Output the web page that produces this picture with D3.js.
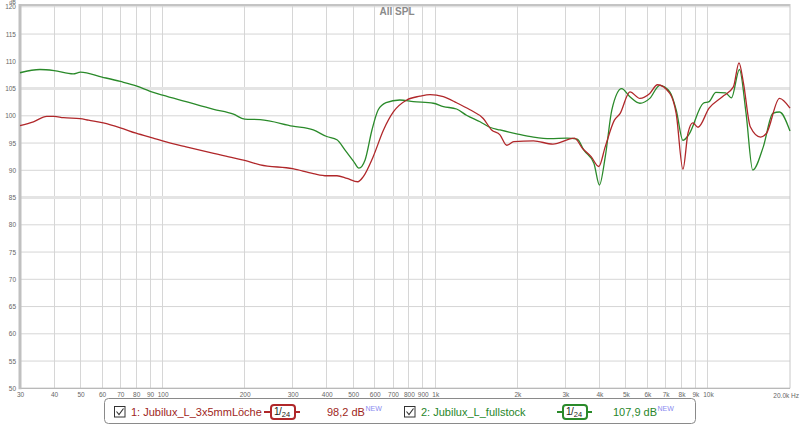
<!DOCTYPE html>
<html><head><meta charset="utf-8">
<script src="https://cdn.jsdelivr.net/npm/d3@7"></script>
<style>
body{margin:0;background:#fff;}
svg{display:block;font-family:"Liberation Sans",Arial,sans-serif;}
</style></head>
<body><svg id="chart" width="800" height="425"></svg>
<script>
// ---- data ----
const title = "All SPL";
const redName = "1: Jubilux_L_3x5mmLöche";
const greenName = "2: Jubilux_L_fullstock";
const redLevel = "98,2 dB";
const greenLevel = "107,9 dB";
const redFreq = [30,33.6,37.6,40,43.3,49.8,53.5,60.6,70,80,92.4,100,122,154,182,200,228,300,357,400,436,475,520,544,592,646,703,786,879,957,1071,1197,1341,1500,1610,1727,1830,1940,2292,2700,3240,3470,3730,3980,4200,4540,4760,5175,5630,6120,6530,7250,7650,8100,8450,8800,9200,10100,11300,12400,13000,13500,14300,15600,16400,18300,20000];
const redDb = [98.2,98.9,99.9,99.9,99.65,99.5,99.2,98.7,97.8,96.8,95.9,95.4,94.3,93.1,92.3,91.8,91.0,90.3,89.4,89.0,89.0,88.5,87.9,88.8,92.5,97.4,100.75,102.9,103.6,103.9,103.5,102.4,101.1,99.5,97.4,96.5,94.6,95.25,95.4,94.8,95.9,94.0,92.5,90.7,94.3,99.2,100.4,104.4,103.2,104.1,105.7,104.1,100.4,90.2,96.8,98.7,97.9,101.4,103.5,105.3,109.7,106.0,98.0,96.1,96.8,103.2,101.4];
const greenFreq = [30,35.5,40,47,50,60,70,80,90,100,122,154,182,200,228,300,357,400,436,467,501,525,553,586,618,660,741,831,984,1071,1197,1302,1460,1585,1727,1989,2292,2640,3040,3315,3508,3818,4000,4203,4443,4827,5175,5630,6120,6660,7250,7650,8100,8500,9618,10100,10700,11600,12200,13050,13800,14600,15960,17300,18300,20000];
const greenDb = [107.9,108.5,108.3,107.7,108.0,107.1,106.3,105.5,104.5,103.8,102.6,101.2,100.3,99.4,99.3,98.1,97.4,96.2,95.6,93.7,91.7,90.4,91.9,97.4,101.1,102.4,102.9,102.6,102.3,101.7,101.25,100.1,98.9,97.9,97.4,96.7,96.1,95.8,95.9,95.7,93.7,91.3,87.3,92.5,101.1,105.0,103.5,102.3,103.2,105.6,104.4,101.1,95.5,96.5,102.3,102.6,104.3,104.2,103.3,108.5,100.45,90.05,94.3,100.45,100.7,97.2];
const xTickVals = [30,40,50,60,70,80,90,100,200,300,400,500,600,700,800,900,1000,2000,3000,4000,5000,6000,7000,8000,9000,10000];
const xTickLabels = ["30","40","50","60","70","80","90","100","200","300","400","500","600","700","800","900","1k","2k","3k","4k","5k","6k","7k","8k","9k","10k"];
const yTickVals = [50,55,60,65,70,75,80,85,90,95,100,105,110,115,120];

// ---- layout ----
const svg = d3.select("#chart");
const L = 20, R = 790, T = 6.8, B = 388.3;
const x = d3.scaleLog().domain([30, 20000]).range([L, R]);
const y = d3.scaleLinear().domain([50, 120]).range([B, T]);
const red = "#b0272a", green = "#2a8a2a";
const redText = "#9e1f22", greenText = "#28862a";

// grid
const g = svg.append("g");
g.selectAll(".vg").data(xTickVals.slice(1)).enter().append("line")
  .attr("x1", d => x(d)).attr("x2", d => x(d)).attr("y1", 5).attr("y2", B)
  .attr("stroke", "#d6d6d6").attr("stroke-width", 1).attr("shape-rendering","crispEdges");
g.selectAll(".hg").data(yTickVals).enter().append("line")
  .attr("x1", L).attr("x2", R).attr("y1", d => y(d)).attr("y2", d => y(d))
  .attr("stroke", d => (d === 105 || d === 85) ? "#e4e4e4" : "#d6d6d6")
  .attr("stroke-width", d => (d === 105 || d === 85) ? 3 : 1);
// frame
svg.append("line").attr("x1", L).attr("x2", R).attr("y1", 5).attr("y2", 5).attr("stroke", "#c4c4c4").attr("stroke-width", 2);
svg.append("line").attr("x1", R).attr("x2", R).attr("y1", 4).attr("y2", B).attr("stroke", "#c8c8c8").attr("stroke-width", 1);
svg.append("line").attr("x1", L).attr("x2", R).attr("y1", B).attr("y2", B).attr("stroke", "#b0b0b0").attr("stroke-width", 1);
svg.append("line").attr("x1", L).attr("x2", L).attr("y1", 4).attr("y2", B+1).attr("stroke", "#c0c0c0").attr("stroke-width", 3);

// axes labels
const yAxis = d3.axisLeft(y).tickValues(yTickVals).tickSize(0).tickPadding(3);
const ya = svg.append("g").attr("transform", `translate(${L-1},0)`).call(yAxis);
ya.select(".domain").remove();
ya.selectAll("text").attr("font-size", 6.5).attr("fill", "#666").attr("font-family", "Liberation Sans, Arial, sans-serif");
svg.append("text").attr("x", 16).attr("y", 4).attr("text-anchor", "end").attr("font-size", 5.5).attr("fill", "#666").text("dB");

const xAxis = d3.axisBottom(x).tickValues(xTickVals).tickSize(0).tickPadding(4)
  .tickFormat((d, i) => xTickLabels[i]);
const xa = svg.append("g").attr("transform", `translate(0,${B})`).call(xAxis);
xa.select(".domain").remove();
xa.selectAll("text").attr("font-size", 6.5).attr("fill", "#666").attr("font-family", "Liberation Sans, Arial, sans-serif");
svg.append("text").attr("x", 799).attr("y", B + 10).attr("text-anchor", "end")
  .attr("font-size", 6.5).attr("fill", "#666").text("20.0k Hz");

// title
svg.append("text").attr("x", 397).attr("y", 15).attr("text-anchor", "middle")
  .attr("font-size", 10).attr("font-weight", "bold").attr("fill", "#8a8a8a").text(title);

// curves
const line = d3.line().x(d => x(d[0])).y(d => y(d[1])).curve(d3.curveMonotoneX);
svg.append("path").datum(greenFreq.map((f, i) => [f, greenDb[i]]))
  .attr("d", line).attr("fill", "none").attr("stroke", green).attr("stroke-width", 1.3);
svg.append("path").datum(redFreq.map((f, i) => [f, redDb[i]]))
  .attr("d", line).attr("fill", "none").attr("stroke", red).attr("stroke-width", 1.3);

// legend
const lg = svg.append("g");
lg.append("rect").attr("x", 104.5).attr("y", 398.5).attr("width", 591).attr("height", 25)
  .attr("rx", 4).attr("fill", "#fff").attr("stroke", "#8a8a8a").attr("stroke-width", 1);
function checkbox(cx) {
  lg.append("rect").attr("x", cx + 0.5).attr("y", 406.5).attr("width", 10.5).attr("height", 10.5)
    .attr("fill", "#fff").attr("stroke", "#333").attr("stroke-width", 1);
  lg.append("path").attr("d", `M${cx+2.5},${411.5} L${cx+5},${414.5} L${cx+9.5},${408.5}`)
    .attr("fill", "none").attr("stroke", "#333").attr("stroke-width", 1.1);
}
function smooth(x0, x1, bx, color) {
  lg.append("line").attr("x1", x0).attr("x2", x1).attr("y1", 412).attr("y2", 412).attr("stroke", color).attr("stroke-width", 2);
  lg.append("rect").attr("x", bx).attr("y", 405).attr("width", 24).attr("height", 14).attr("rx", 3)
    .attr("fill", "#fff").attr("stroke", color).attr("stroke-width", 2);
  const t = lg.append("text").attr("x", bx + 3).attr("y", 415).attr("font-size", 10).attr("fill", "#222");
  t.append("tspan").text("1");
  t.append("tspan").attr("dx", -0.5).text("/");
  t.append("tspan").attr("font-size", 7.5).attr("dy", 1.5).text("24");
}
function level(tx, txt, color) {
  const t = lg.append("text").attr("x", tx).attr("y", 415.5).attr("font-size", 11).attr("fill", color);
  t.append("tspan").text(txt);
  t.append("tspan").attr("font-size", 7).attr("dy", -4.5).attr("dx", 0.5).attr("fill", "#8b8bf0").text("NEW");
}
checkbox(114);
lg.append("text").attr("x", 131).attr("y", 415.5).attr("font-size", 11).attr("fill", redText).text(redName);
smooth(264, 300, 271, red);
level(327, redLevel, redText);
checkbox(404);
lg.append("text").attr("x", 421).attr("y", 415.5).attr("font-size", 11).attr("fill", greenText).text(greenName);
smooth(557, 592, 563, green);
level(613, greenLevel, greenText);
</script></body></html>
